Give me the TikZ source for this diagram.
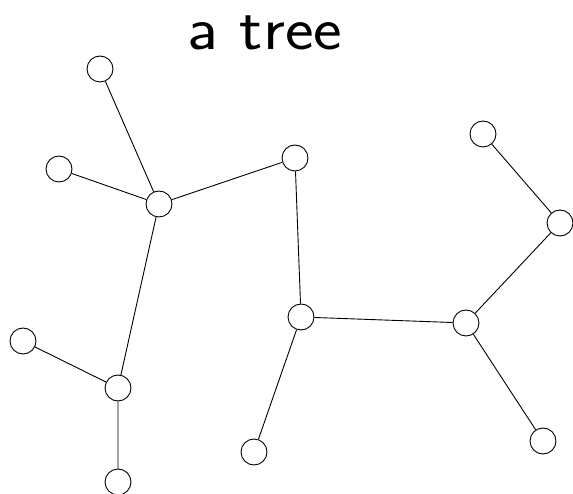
\documentclass[tikz,border=0pt]{standalone}
\usepackage{xcolor}
\tikzset{vert/.style={circle, draw, line width=.9pt, minimum size=26pt, inner sep=0pt}, edge/.style={line width=.9pt}, ttl/.style={font=\sffamily\fontsize{61}{68}\selectfont, anchor=base, inner sep=0pt, xscale=1.12, transform shape}}

\begin{document}
\begin{tikzpicture}[x=1pt,y=-1pt]
\useasboundingbox (0,0) rectangle (573,494);
\node[ttl] (title) at (265,50) {a tree};
\node[vert] (top) at (100,69) {}; \node[vert] (left) at (59,169) {}; \node[vert] (hub) at (159,204) {};
\node[vert] (up) at (295,158) {}; \node[vert] (mid) at (301,317) {}; \node[vert] (low) at (254,452) {};
\node[vert] (east) at (466,323) {}; \node[vert] (ne) at (560,223) {}; \node[vert] (far) at (483,134) {}; \node[vert] (se) at (543,441) {};
\node[vert] (sw) at (118,388) {}; \node[vert] (west) at (23,341) {}; \node[vert] (bot) at (118,482) {};
\draw[edge] (top)--(hub) (left)--(hub) (hub)--(up) (hub)--(sw); \draw[edge] (up)--(mid) (mid)--(low) (mid)--(east);
\draw[edge] (east)--(ne) (ne)--(far) (east)--(se); \draw[edge] (sw)--(west) (sw)--(bot);
\end{tikzpicture}
\end{document}
